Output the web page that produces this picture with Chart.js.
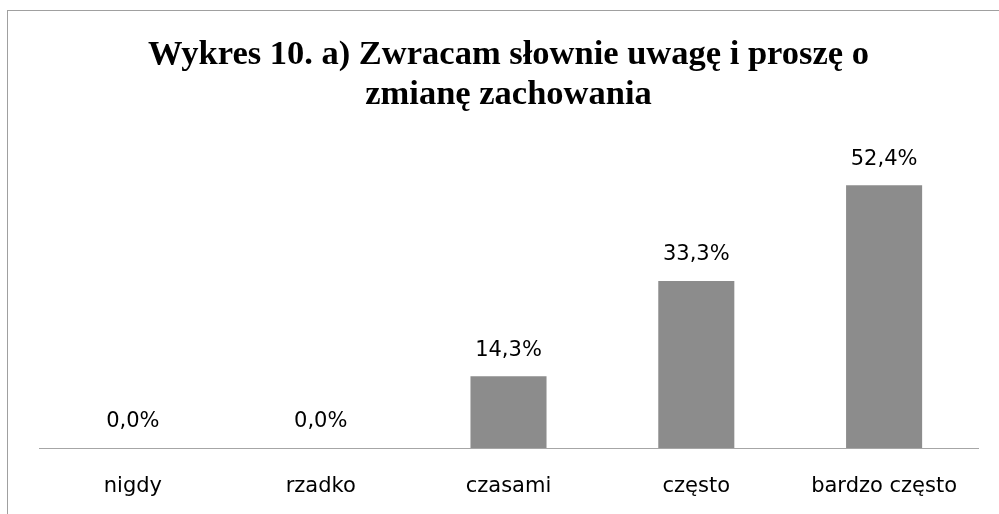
<!DOCTYPE html>
<html>
<head>
<meta charset="utf-8">
<script src="https://cdn.jsdelivr.net/npm/chart.js@4"></script>
<style>
  body { margin: 0; background: #fff; overflow: hidden; }
  #wrap { position: relative; width: 999px; height: 514px; }
  #frame { position: absolute; left: 7px; top: 10px; width: 1100px; height: 600px; border: 1px solid #a0a0a0; }
  canvas { position: absolute; left: 0; top: 0; }
</style>
</head>
<body>
<div id="wrap">
  <div id="frame"></div>
  <canvas id="chart" width="999" height="514"></canvas>
</div>
<script>
var categories = ['nigdy', 'rzadko', 'czasami', 'często', 'bardzo często'];
var values = [0.0, 0.0, 14.3, 33.3, 52.4];
var titleLines = ['Wykres 10. a) Zwracam słownie uwagę i proszę o', 'zmianę zachowania'];

// etykiety nad słupkami
var valueLabels = {
    id: 'valueLabels',
    afterDatasetsDraw: function(chart){
        var ctx = chart.ctx;
        var meta = chart.getDatasetMeta(0);
        ctx.save();
        ctx.font = '21px "DejaVu Sans"';
        ctx.fillStyle = '#000';
        ctx.textAlign = 'center';
        ctx.textBaseline = 'middle';
        for(var i = 0; i < meta.data.length; i++){
            var bar = meta.data[i];
            var txt = values[i].toFixed(1).replace('.', ',') + '%';
            ctx.fillText(txt, bar.x, bar.y - 26);
        }
        ctx.restore();
    }
};

var ctx = document.getElementById('chart').getContext('2d');
var myChart = new Chart(ctx, {
    type: 'bar',
    data: {
        labels: categories,
        datasets: [{
            data: values,
            backgroundColor: '#8c8c8c',
            borderWidth: 0,
            barPercentage: 0.405,
            categoryPercentage: 1
        }]
    },
    options: {
        responsive: false,
        animation: false,
        layout: { padding: { left: 39, right: 21, top: 0, bottom: 0 } },
        plugins: {
            legend: { display: false },
            tooltip: { enabled: false },
            title: {
                display: true,
                text: titleLines,
                color: '#000',
                font: { family: '"Liberation Serif"', size: 34.5, weight: 'bold', lineHeight: 1.16 },
                padding: { top: 35, bottom: 32 }
            }
        },
        scales: {
            y: { display: false, min: 0, max: 60 },
            x: {
                grid: { display: false, drawTicks: false },
                border: { display: true, color: '#a6a6a6', width: 1 },
                ticks: { color: '#000', font: { family: '"DejaVu Sans"', size: 21 }, padding: 26 },
                afterFit: function(scale){ scale.height = 66; }
            }
        }
    },
    plugins: [valueLabels]
});
</script>
</body>
</html>
